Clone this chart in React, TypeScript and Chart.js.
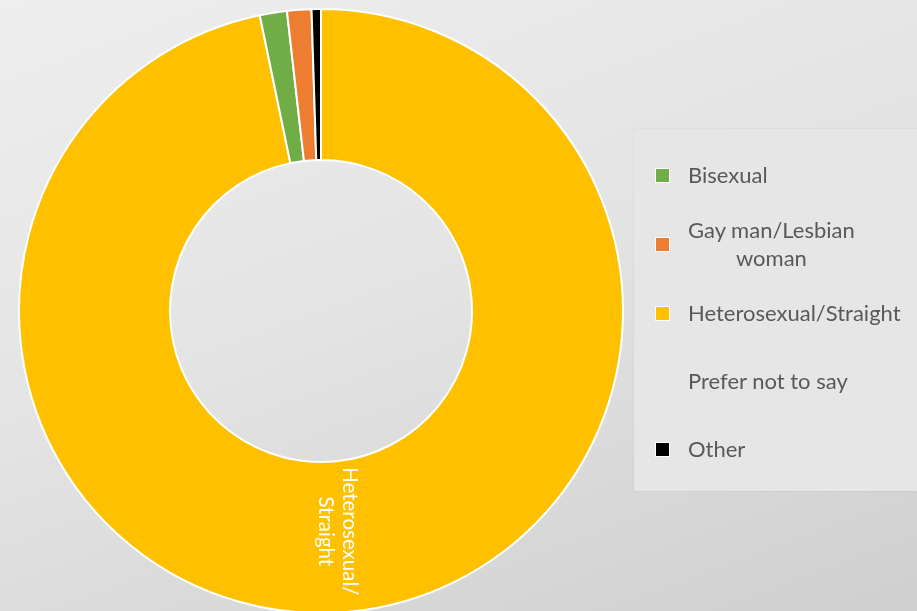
import { useEffect, useRef } from 'react';
import { Chart, registerables, type ChartConfiguration, type Plugin } from 'chart.js';

Chart.register(...registerables);

// legend order
const categories = ['Bisexual', 'Gay man/Lesbian woman', 'Heterosexual/Straight', 'Prefer not to say', 'Other'];
const shares = [1.45, 1.3, 96.75, 0, 0.5];
const colors = ['#70ad47', '#ed7d31', '#ffc000', 'rgba(0,0,0,0)', '#000000'];
// legend lines (multi-line where the original wraps)
const legendLines = [['Bisexual'], ['Gay man/Lesbian', 'woman'], ['Heterosexual/Straight'], ['Prefer not to say'], ['Other']];
// order the slices are drawn in, clockwise from 12 o'clock
const sliceOrder = ['Heterosexual/Straight', 'Bisexual', 'Gay man/Lesbian woman', 'Prefer not to say', 'Other'];
const labelled = 'Heterosexual/Straight';
const sliceLabel = ['Heterosexual/', 'Straight'];

const FONT = 'Lato, "Open Sans", sans-serif';

const sliceText: Plugin<'doughnut'> = {
  id: 'sliceText',
  afterDatasetsDraw(chart) {
    const meta = chart.getDatasetMeta(0);
    const idx = (chart.data.labels as string[]).indexOf(labelled);
    const arc = meta.data[idx];
    if (!arc) return;
    const { x, y } = arc.tooltipPosition(true);
    const ctx = chart.ctx;
    ctx.save();
    ctx.translate(x - 6, y - 5);
    ctx.rotate(Math.PI / 2);
    ctx.fillStyle = '#ffffff';
    ctx.font = `20.5px ${FONT}`;
    ctx.textAlign = 'center';
    ctx.textBaseline = 'middle';
    const lh = 24;
    sliceLabel.forEach((t, i) => {
      ctx.fillText(t, 0, (i - (sliceLabel.length - 1) / 2) * lh);
    });
    ctx.restore();
  },
};

export default function App() {
  const canvasRef = useRef<HTMLCanvasElement>(null);
  const chartRef = useRef<Chart | null>(null);

  useEffect(() => {
    if (!canvasRef.current) return;
    chartRef.current?.destroy();
    const order = sliceOrder.map(l => categories.indexOf(l));
    const config: ChartConfiguration<'doughnut'> = {
      type: 'doughnut',
      data: {
        labels: order.map(i => categories[i]),
        datasets: [{
          data: order.map(i => shares[i]),
          backgroundColor: order.map(i => colors[i]),
          borderColor: '#ffffff',
          borderWidth: 2,
        }],
      },
      options: {
        responsive: false,
        animation: false,
        cutout: '50%',
        layout: { padding: { left: 18, right: 293, top: 8, bottom: 0 } },
        plugins: { legend: { display: false }, tooltip: { enabled: false } },
      },
      plugins: [sliceText],
    };
    chartRef.current = new Chart(canvasRef.current, config);
    return () => { chartRef.current?.destroy(); chartRef.current = null; };
  }, []);

  return (
    <div style={{
      position: 'relative', width: 917, height: 611, overflow: 'hidden',
      background: 'linear-gradient(160deg, #eeeeee 0%, #e4e4e4 45%, #cfcfcf 100%)',
      fontFamily: FONT,
    }}>
      <style>{'body{margin:0}'}</style>
      <canvas ref={canvasRef} width={917} height={614} style={{ position: 'absolute', left: 0, top: 0 }} />
      <div style={{
        position: 'absolute', left: 634, top: 129, width: 283, height: 362,
        background: '#e6e6e6', boxShadow: '0 0 2px rgba(0,0,0,0.08)',
      }}>
        {categories.map((c, i) => {
          const centers = [46, 115, 184, 252, 320];
          return (
            <div key={c} style={{ position: 'absolute', left: 21, top: centers[i], transform: 'translateY(-50%)', display: 'flex', alignItems: 'center' }}>
              <span style={{ width: 15, height: 15, background: colors[i], border: colors[i].startsWith('rgba') ? 'none' : '1px solid #fff', boxSizing: 'border-box', marginRight: 18, flex: 'none' }} />
              <span style={{ fontSize: 22, color: '#595959', textAlign: 'center', lineHeight: '28px' }}>
                {legendLines[i].map((t, k) => <div key={k}>{t}</div>)}
              </span>
            </div>
          );
        })}
      </div>
    </div>
  );
}
